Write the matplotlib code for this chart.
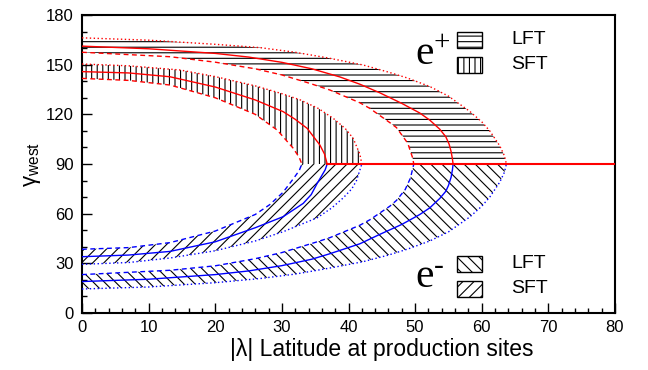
import matplotlib
matplotlib.use("Agg")
import matplotlib.pyplot as plt
from matplotlib.patches import Rectangle
from matplotlib.ticker import MultipleLocator

plt.rcParams['font.family'] = ['Liberation Sans', 'DejaVu Sans']
plt.rcParams['mathtext.fontset'] = 'custom'
plt.rcParams['mathtext.rm'] = 'Liberation Serif'
plt.rcParams['mathtext.sf'] = 'Liberation Sans'
plt.rcParams['mathtext.it'] = 'Liberation Serif:italic'
plt.rcParams['hatch.linewidth'] = 0.8

# ---------------- data ----------------
# e+ LFT band
ep_lft_out_x = [0, 10, 20, 26.7, 32, 37, 42.2, 46, 48.8, 52.2, 55, 58.2, 60, 61.2, 62.7, 63.4, 63.7]
ep_lft_out_y = [166.2, 164.8, 162.3, 160.3, 157.5, 154, 149.8, 145.5, 142, 136.8, 131, 121.8, 115.5, 110, 101, 95, 90]
ep_lft_mid_x = [0, 10, 20, 25, 30, 34.5, 38.7, 41.7, 44.7, 48, 50.7, 52.2, 53.7, 54.6, 55.1, 55.4, 55.6, 55.7]
ep_lft_mid_y = [161.2, 159.6, 156.8, 154.6, 151.4, 147.5, 142.6, 138.2, 133.0, 126.6, 120.8, 116.5, 111.0, 106.5, 102.0, 97.5, 93.0, 90]
ep_lft_in_x = [0, 13.2, 20, 26, 30, 34.2, 37.2, 41.7, 43.2, 46.2, 47.2, 48.9, 49.6, 49.8]
ep_lft_in_y = [157.5, 154.8, 151.5, 147.5, 143.8, 138.7, 134.7, 127, 123.6, 115, 112, 102.5, 94, 90]
# e+ SFT band
ep_sft_out_x = [0, 7, 14.7, 20, 26, 30, 32.7, 35.5, 37.7, 39.5, 40.7, 41.7, 42]
ep_sft_out_y = [150.4, 149.3, 146.8, 142.8, 137.2, 132.5, 128.8, 123.5, 117.6, 111.5, 105.5, 96, 90]
ep_sft_mid_x = [0, 7, 13.2, 20, 26, 30.2, 32, 33.8, 35.7, 36.4, 36.8]
ep_sft_mid_y = [145.8, 145, 142.7, 136.5, 128.7, 121.6, 117, 111.5, 101.5, 96, 90]
ep_sft_in_x = [0, 7, 13.2, 20, 26, 29.3, 31.7, 32.6, 33]
ep_sft_in_y = [141.7, 140.5, 137.7, 130, 120, 110.5, 99.5, 94, 90]
# e- SFT band
em_sft_in_x = [0, 7, 13.2, 20, 26, 28.2, 30.2, 31.7, 32.6, 33]
em_sft_in_y = [38.5, 39.5, 42.5, 49.5, 59.5, 65.5, 73, 81, 86, 90]
em_sft_mid_x = [0, 7, 13.2, 20, 26, 30.2, 33.2, 34.4, 35.3, 36.5, 36.8]
em_sft_mid_y = [34, 35, 37.2, 43, 51.5, 58.2, 66.2, 71.5, 78.3, 86.5, 90]
em_sft_out_x = [0, 7, 13.2, 20, 26, 30.2, 35.3, 37.5, 39.2, 40.5, 41.2, 42]
em_sft_out_y = [29.4, 30.5, 33.2, 37.6, 43.5, 49.1, 57.5, 63.5, 69.5, 75, 80, 90]
# e- LFT band
em_lft_in_x = [0, 13.2, 20, 26, 30, 35.3, 37.2, 41.7, 43.2, 46.2, 47.2, 48.5, 49.3, 49.8]
em_lft_in_y = [23.2, 25.8, 28.5, 32.8, 36.5, 43, 45.5, 53, 56.3, 64.5, 68, 74.5, 81.5, 90]
em_lft_mid_x = [0, 10, 20, 25, 30, 34.5, 37.2, 41.7, 44.7, 48, 50.7, 52.2, 53.7, 54.6, 55.0, 55.4, 55.6, 55.7]
em_lft_mid_y = [19, 20.4, 23.2, 25.4, 28.6, 32.5, 35.8, 41.8, 47.5, 53.5, 59.5, 63.5, 69.2, 73.5, 77, 82, 86.5, 90]
em_lft_out_x = [0, 10, 20, 26.7, 32, 37, 42.2, 46, 48.8, 52.2, 55, 58.2, 60, 61.2, 62.7, 63.4, 63.7]
em_lft_out_y = [14.5, 15.7, 18.3, 20.8, 23.5, 27, 31, 35, 38.5, 43.5, 49, 58, 64.5, 70, 79, 85, 90]
# flat part (gamma = 90)
flat_x = [36.8, 80]
flat_y = [90, 90]

x_ticks = [0, 10, 20, 30, 40, 50, 60, 70, 80]
y_ticks = [0, 30, 60, 90, 120, 150, 180]

# ---------------- figure ----------------
fig = plt.figure(figsize=(6.48, 3.70), dpi=100)
ax = fig.add_axes([82 / 648, 1 - 313 / 370, 533 / 648, 298 / 370])


def band(xo, yo, xi, yi, hatch):
    px = list(xo) + list(reversed(xi))
    py = list(yo) + list(reversed(yi))
    ax.fill(px, py, facecolor='none', edgecolor='black', hatch=hatch, linewidth=0, zorder=1)


band(ep_lft_out_x, ep_lft_out_y, ep_lft_in_x, ep_lft_in_y, '---')
band(ep_sft_out_x, ep_sft_out_y, ep_sft_in_x, ep_sft_in_y, '|||')
band(em_sft_out_x, em_sft_out_y, em_sft_in_x, em_sft_in_y, '///')
band(em_lft_out_x, em_lft_out_y, em_lft_in_x, em_lft_in_y, '\\\\\\')

red = '#ff0000'
blue = '#0000ff'
dot = (0, (1, 1.8))
dash = (0, (3.5, 2.5))
lw = 1.0

ax.plot(ep_lft_out_x, ep_lft_out_y, color=red, ls=dot, lw=lw, zorder=3)
ax.plot(ep_lft_mid_x, ep_lft_mid_y, color=red, ls='-', lw=lw, zorder=3)
ax.plot(ep_lft_in_x, ep_lft_in_y, color=red, ls=dash, lw=lw, zorder=3)
ax.plot(ep_sft_out_x, ep_sft_out_y, color=red, ls=dot, lw=lw, zorder=3)
ax.plot(ep_sft_mid_x, ep_sft_mid_y, color=red, ls='-', lw=lw, zorder=3)
ax.plot(ep_sft_in_x, ep_sft_in_y, color=red, ls=dash, lw=lw, zorder=3)

ax.plot(em_sft_in_x, em_sft_in_y, color=blue, ls=dash, lw=lw, zorder=3)
ax.plot(em_sft_mid_x, em_sft_mid_y, color=blue, ls='-', lw=lw, zorder=3)
ax.plot(em_sft_out_x, em_sft_out_y, color=blue, ls=dot, lw=lw, zorder=3)
ax.plot(em_lft_in_x, em_lft_in_y, color=blue, ls=dash, lw=lw, zorder=3)
ax.plot(em_lft_mid_x, em_lft_mid_y, color=blue, ls='-', lw=lw, zorder=3)
ax.plot(em_lft_out_x, em_lft_out_y, color=blue, ls=dot, lw=lw, zorder=3)

ax.plot(flat_x, flat_y, color=red, ls='-', lw=1.5, zorder=4)

# ---------------- axes styling ----------------
ax.set_xlim(0, 80)
ax.set_ylim(0, 180)
ax.set_xticks(x_ticks)
ax.set_yticks(y_ticks)
ax.xaxis.set_minor_locator(MultipleLocator(2))
ax.yaxis.set_minor_locator(MultipleLocator(10))
ax.tick_params(which='both', direction='in', top=False, right=False, width=1, labelsize=12)
ax.tick_params(which='major', length=7)
ax.tick_params(which='minor', length=3.5)
ax.tick_params(axis='x', pad=5)
ax.tick_params(axis='y', pad=6)
for s in ax.spines.values():
    s.set_linewidth(1.5)

ax.set_xlabel('|λ| Latitude at production sites', fontsize=16.5, labelpad=2)
ax.xaxis.label.set_x(0.563)
ax.set_ylabel(r'$\mathsf{γ}_{\mathsf{west}}$', fontsize=16, labelpad=2)

# ---------------- legends ----------------
ax.text(50.0, 149.8, r'$\mathrm{e}^{+}$', fontsize=30, va='baseline', ha='left')
ax.text(50.0, 15.1, r'$\mathrm{e}^{\text{-}}$', fontsize=30, va='baseline', ha='left')

boxes = [((56.3, 160.1), '---', 'LFT'), ((56.3, 145.0), '|||', 'SFT'),
         ((56.3, 24.9), '\\\\\\', 'LFT'), ((56.3, 9.8), '///', 'SFT')]
for (bx, by), h, lab in boxes:
    ax.add_patch(Rectangle((bx, by), 3.7, 9.8, facecolor='white', edgecolor='black',
                           hatch=h, linewidth=1.0, zorder=5))
    ax.text(64.4, by + 4.9, lab, fontsize=14, va='center', ha='left', zorder=6)

fig.savefig('out.png', dpi=100)
